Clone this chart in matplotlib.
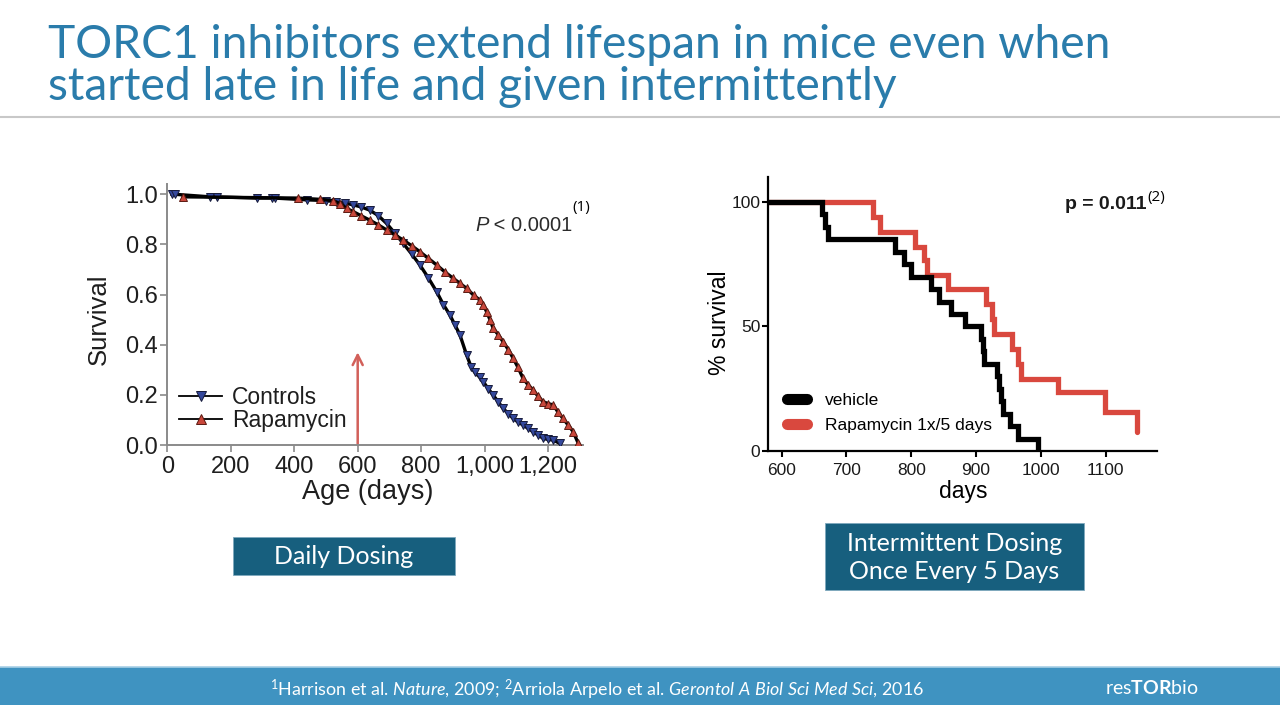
import matplotlib
matplotlib.use("Agg")
import matplotlib.pyplot as plt
from matplotlib.patches import Rectangle
from matplotlib.lines import Line2D

# ---------------- data ----------------
title_lines = ["TORC1 inhibitors extend lifespan in mice even when",
               "started late in life and given intermittently"]

# Left panel: daily dosing (Harrison et al. 2009)
ctrl_days = [15, 25, 135, 156, 282, 329, 339, 439, 500, 533, 560, 586, 610, 638, 665, 691,
             717, 743, 770, 796, 822, 849, 870, 890, 906, 922, 943, 958, 969, 985, 996, 1011,
             1027, 1043, 1058, 1075, 1090, 1105, 1121, 1137, 1153, 1168, 1184, 1200, 1216, 1236]
ctrl_surv = [1.0, 1.0, 0.99, 0.99, 0.985, 0.985, 0.985, 0.978, 0.975, 0.970, 0.965, 0.958, 0.950, 0.937, 0.915, 0.884,
             0.845, 0.805, 0.762, 0.718, 0.668, 0.611, 0.560, 0.520, 0.480, 0.440, 0.360, 0.310, 0.290, 0.270, 0.252, 0.225,
             0.199, 0.172, 0.146, 0.125, 0.106, 0.092, 0.080, 0.066, 0.053, 0.040, 0.027, 0.022, 0.020, 0.007]
rapa_days = [50, 413, 481, 523, 545, 565, 586, 610, 638, 665, 691, 717, 743, 770, 796, 822,
             849, 875, 901, 922, 943, 965, 985, 996, 1006, 1017, 1027, 1043, 1058, 1075, 1090, 1105,
             1121, 1137, 1153, 1168, 1184, 1200, 1216, 1232, 1247, 1263, 1279, 1295]
rapa_surv = [0.99, 0.985, 0.98, 0.975, 0.962, 0.944, 0.931, 0.915, 0.897, 0.878, 0.858, 0.838, 0.818, 0.795, 0.771, 0.745,
             0.718, 0.690, 0.665, 0.645, 0.625, 0.598, 0.578, 0.560, 0.532, 0.500, 0.465, 0.440, 0.412, 0.380, 0.346, 0.310,
             0.266, 0.240, 0.219, 0.195, 0.173, 0.165, 0.160, 0.130, 0.106, 0.080, 0.053, 0.007]
left_xticks = [0, 200, 400, 600, 800, 1000, 1200]
left_xticklabels = ["0", "200", "400", "600", "800", "1,000", "1,200"]
left_yticks = [0.0, 0.2, 0.4, 0.6, 0.8, 1.0]
left_yticklabels = ["0.0", "0.2", "0.4", "0.6", "0.8", "1.0"]
treatment_start_day = 600
arrow_top = 0.37

# Right panel: intermittent dosing (Arriola Apelo et al. 2016)
veh_days = [579, 662, 667, 672, 775, 788, 800, 830, 842, 862, 883, 908, 910, 912, 932, 936, 938, 941, 952, 965, 995]
veh_surv = [100, 95, 90, 85, 80, 75, 70, 65, 60, 55, 50, 45, 40, 35, 30, 25, 20, 15, 10, 5, 0]
r5_days = [579, 741, 752, 806, 819, 824, 856, 916, 925, 928, 955, 965, 970, 1027, 1099, 1148]
r5_surv = [100, 94, 88, 82, 76.5, 70.5, 65, 59, 53, 47, 41, 35, 29, 23.5, 15.7, 7.8]
right_xticks = [600, 700, 800, 900, 1000, 1100]
right_yticks = [0, 50, 100]

box_labels = ["Daily Dosing", "Intermittent Dosing\nOnce Every 5 Days"]
footer_text = (r"$^1$Harrison et al. $\mathit{Nature}$, 2009; $^2$Arriola Arpelo et al. "
               r"$\mathit{Gerontol\ A\ Biol\ Sci\ Med\ Sci}$, 2016")

# ---------------- style ----------------
plt.rcParams['font.family'] = ['Liberation Sans', 'DejaVu Sans']
plt.rcParams['mathtext.fontset'] = 'custom'
plt.rcParams['mathtext.rm'] = 'Lato'
plt.rcParams['mathtext.it'] = 'Lato:italic'
plt.rcParams['mathtext.bf'] = 'Lato:bold'

W, H = 1280, 720
fig = plt.figure(figsize=(12.8, 7.2), dpi=100)
fig.patch.set_facecolor('white')


def fx(px):
    return px / W


def fy(py):
    return 1 - py / H


def fit_width(t, target):
    r = fig.canvas.get_renderer()
    w = t.get_window_extent(r).width
    t.set_fontsize(t.get_fontsize() * target / w)


TITLE_COLOR = '#2a7cab'
BOX_COLOR = '#175f7e'
SLIDE_FAM = ['Lato', 'DejaVu Sans']

# title
t1 = fig.text(fx(48), fy(58), title_lines[0], fontsize=30, color=TITLE_COLOR,
              family=SLIDE_FAM, ha='left', va='baseline')
fit_width(t1, 1062)
t2 = fig.text(fx(48), fy(100), title_lines[1], fontsize=t1.get_fontsize(), color=TITLE_COLOR,
              family=SLIDE_FAM, ha='left', va='baseline')
fig.add_artist(Line2D([0, 1], [fy(117), fy(117)], color='#c8c8c8', lw=1.5,
                      transform=fig.transFigure))

# ---------------- left chart ----------------
L0, L1, T0, B0 = 167.3, 583.0, 184.3, 445.0
axL = fig.add_axes([fx(L0), fy(B0), (L1 - L0) / W, (B0 - T0) / H])
axL.plot(ctrl_days, ctrl_surv, color='black', lw=2.4, marker='v', ms=6.3,
         mfc='#34489c', mec='#161a3a', mew=0.7, label='Controls', zorder=3)
axL.plot(rapa_days, rapa_surv, color='black', lw=2.4, marker='^', ms=6.3,
         mfc='#c9473b', mec='#5a1a12', mew=0.7, label='Rapamycin', zorder=4)
axL.annotate('', xy=(treatment_start_day, arrow_top), xytext=(treatment_start_day, 0.0),
             arrowprops=dict(arrowstyle='->', color='#d2605a', lw=1.8,
                             mutation_scale=18, shrinkA=0, shrinkB=0), zorder=2)
axL.set_xlim(0, 1310)
axL.set_ylim(0, 1.04)
for s in ['top', 'right']:
    axL.spines[s].set_visible(False)
for s in ['left', 'bottom']:
    axL.spines[s].set_color('#8a8a8a')
    axL.spines[s].set_linewidth(1.4)
axL.set_xticks(left_xticks)
axL.set_xticklabels(left_xticklabels)
axL.set_yticks(left_yticks)
axL.set_yticklabels(left_yticklabels)
axL.tick_params(direction='out', length=5, width=1.2, color='#8a8a8a',
                labelsize=17, labelcolor='#1e1e1e')
axL.tick_params(axis='y', pad=2)
axL.tick_params(axis='x', pad=3)
axL.set_ylabel('Survival', fontsize=18.5, color='#1e1e1e', va='center')
axL.yaxis.set_label_coords(-0.165, 0.483)
axL.set_xlabel('Age (days)', fontsize=19.5, color='#1e1e1e', va='center')
axL.xaxis.set_label_coords(0.4826, -0.179)
legL = axL.legend(loc='center left', bbox_to_anchor=(0.028, 0.138), frameon=False,
                  fontsize=16.5, handlelength=1.9, handletextpad=0.4, labelspacing=0.0,
                  borderaxespad=0, borderpad=0, numpoints=1)
for ln in legL.get_lines():
    ln.set_linewidth(1.3)
    ln.set_markersize(6.5)
for txt in legL.get_texts():
    txt.set_color('#1e1e1e')
ptxt = axL.text(0.975, 0.842, ' < 0.0001', transform=axL.transAxes, ha='right',
                va='center', fontsize=14.5, color='#2b2b2b')
axL.annotate('P', xy=(0, 0.5), xycoords=ptxt, ha='right', va='center',
             fontsize=14.5, color='#2b2b2b', style='italic')
fig.text(fx(581), fy(207), '(1)', ha='center', va='center', fontsize=11,
         family=['Open Sans', 'DejaVu Sans'], color='black')

# ---------------- right chart ----------------
RL, RR, RT, RB = 768.0, 1157.0, 177.0, 451.0
axR = fig.add_axes([fx(RL), fy(RB), (RR - RL) / W, (RB - RT) / H])
lr, = axR.step(r5_days, r5_surv, where='post', color='#d9483e', lw=3.8,
               solid_capstyle='round', solid_joinstyle='miter',
               label='Rapamycin 1x/5 days', zorder=2)
lv, = axR.step(veh_days, veh_surv, where='post', color='black', lw=3.8,
               solid_capstyle='butt', solid_joinstyle='miter', label='vehicle', zorder=3)
axR.set_xlim(579, 1179)
axR.set_ylim(0, 110)
for s in ['top', 'right']:
    axR.spines[s].set_visible(False)
for s in ['left', 'bottom']:
    axR.spines[s].set_linewidth(1.6)
    axR.spines[s].set_color('black')
axR.set_xticks(right_xticks)
axR.set_yticks(right_yticks)
axR.tick_params(direction='out', length=4.5, width=1.5, color='black',
                labelsize=12.5, labelcolor='#1a1a1a')
axR.tick_params(axis='y', pad=1)
axR.tick_params(axis='x', pad=4)
axR.set_ylabel('% survival', fontsize=16.5, va='center')
axR.yaxis.set_label_coords(-0.1234, 0.467)
axR.set_xlabel('days', fontsize=16.5, va='center')
axR.xaxis.set_label_coords(0.501, -0.1496)
legR = axR.legend(handles=[lv, lr], loc='center left', bbox_to_anchor=(0.05, 0.139),
                  frameon=False, fontsize=12.5, handlelength=1.15, handletextpad=1.0,
                  labelspacing=0.55, borderaxespad=0, borderpad=0)
for ln in legR.get_lines():
    ln.set_linewidth(8)
    ln.set_solid_capstyle('round')
pv = axR.text(0.974, 0.898, 'p = 0.011', transform=axR.transAxes, ha='right',
              va='center', fontsize=14, fontweight='bold', color='#1a1a1a')
axR.annotate('(2)', xy=(1, 0.95), xycoords=pv, ha='left', va='center',
             fontsize=11, family=['Open Sans', 'DejaVu Sans'], color='black')

# ---------------- dosing boxes ----------------
boxes = [(233, 537, 455, 575), (825, 523, 1084, 590)]
for (x0, y0, x1, y1), lab in zip(boxes, box_labels):
    fig.add_artist(Rectangle((fx(x0), fy(y1)), (x1 - x0) / W, (y1 - y0) / H,
                             transform=fig.transFigure, facecolor=BOX_COLOR,
                             edgecolor='#7fa9bd', lw=0.6))
    fig.text(fx((x0 + x1) / 2), fy((y0 + y1) / 2 + 1), lab, ha='center', va='center',
             fontsize=18, color='white', family=SLIDE_FAM, linespacing=1.3)

# ---------------- footer ----------------
fig.add_artist(Rectangle((0, fy(705)), 1, (705 - 667) / H, transform=fig.transFigure,
                         facecolor='#3f93c1', edgecolor='none'))
fig.add_artist(Line2D([0, 1], [fy(667), fy(667)], color='#a8d0e6', lw=1.2,
                      transform=fig.transFigure))
ft = fig.text(fx(597), fy(690), footer_text, ha='center', va='center', fontsize=11,
              color='white', family=SLIDE_FAM)
fit_width(ft, 655)
fig.text(fx(1152), fy(688), r'res$\mathbf{TOR}$bio', ha='center', va='center',
         fontsize=14, color='white', family=SLIDE_FAM)

fig.savefig('out.png', dpi=100)
